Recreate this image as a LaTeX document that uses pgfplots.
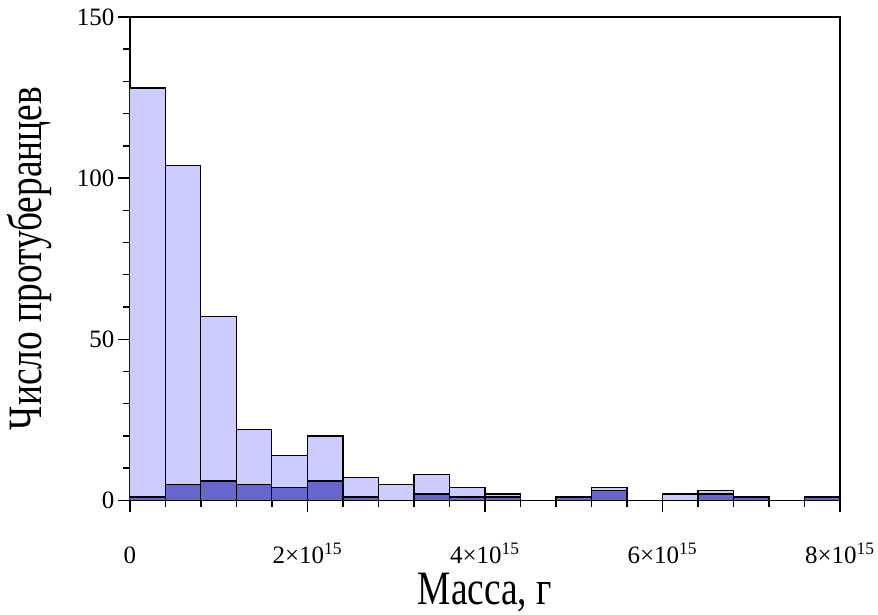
\documentclass[border=0pt]{standalone}
\usepackage{fontspec}
\setmainfont{Liberation Serif}
\newfontfamily\labfont[FakeStretch=0.78]{Liberation Serif}
\usepackage{pgfplots}
\pgfplotsset{compat=1.18}
\definecolor{lightbar}{RGB}{204,204,255}
\definecolor{darkbar}{RGB}{102,102,204}
\begin{document}
\begin{tikzpicture}
\begin{axis}[
  scale only axis,
  width=711pt, height=484pt,
  xmin=0, xmax=8, ymin=0, ymax=150,
  xtick={0,2,4,6,8},
  xticklabels={0,2×10\textsuperscript{15},4×10\textsuperscript{15},6×10\textsuperscript{15},8×10\textsuperscript{15}},
  ytick={0,50,100,150},
  yticklabels={0,50,100,150},
  minor x tick num=4,
  minor y tick num=4,
  xtick pos=bottom, ytick pos=left,
  tick align=outside,
  major tick length=12pt,
  minor tick length=7pt,
  every tick/.style={black, line width=1.4pt},
  axis line style={line width=1.5pt},
  ticklabel style={font=\fontsize{25}{30}\selectfont},
  xticklabel style={anchor=base, yshift=-51pt},
  xlabel={Масса, г},
  ylabel={Число протуберанцев},
  label style={font=\labfont\fontsize{48}{56}\selectfont},
  xlabel style={at={(axis description cs:0.5,0)}, anchor=base, yshift=-104pt},
  ylabel style={at={([xshift=-100pt]axis description cs:0,0.5)}, anchor=center},
]
\addplot[ybar interval, fill=lightbar, draw=black, line width=1.3pt] coordinates {
(0,128) (0.4,104) (0.8,57) (1.2,22) (1.6,14) (2.0,20) (2.4,7) (2.8,5) (3.2,8) (3.6,4)
(4.0,2) (4.4,0) (4.8,1) (5.2,4) (5.6,0) (6.0,2) (6.4,3) (6.8,1) (7.2,0) (7.6,1) (8.0,1)};
\addplot[ybar interval, fill=darkbar, draw=black, line width=1.3pt] coordinates {
(0,1) (0.4,5) (0.8,6) (1.2,5) (1.6,4) (2.0,6) (2.4,1) (2.8,0) (3.2,2) (3.6,1)
(4.0,1) (4.4,0) (4.8,1) (5.2,3) (5.6,0) (6.0,0) (6.4,2) (6.8,1) (7.2,0) (7.6,1) (8.0,1)};
\end{axis}
\path (current axis.south west) ++(-130pt,-111pt) coordinate (bbA);
\path (current axis.north east) ++(37pt,17pt) coordinate (bbB);
\useasboundingbox (bbA) rectangle (bbB);
\end{tikzpicture}
\end{document}
